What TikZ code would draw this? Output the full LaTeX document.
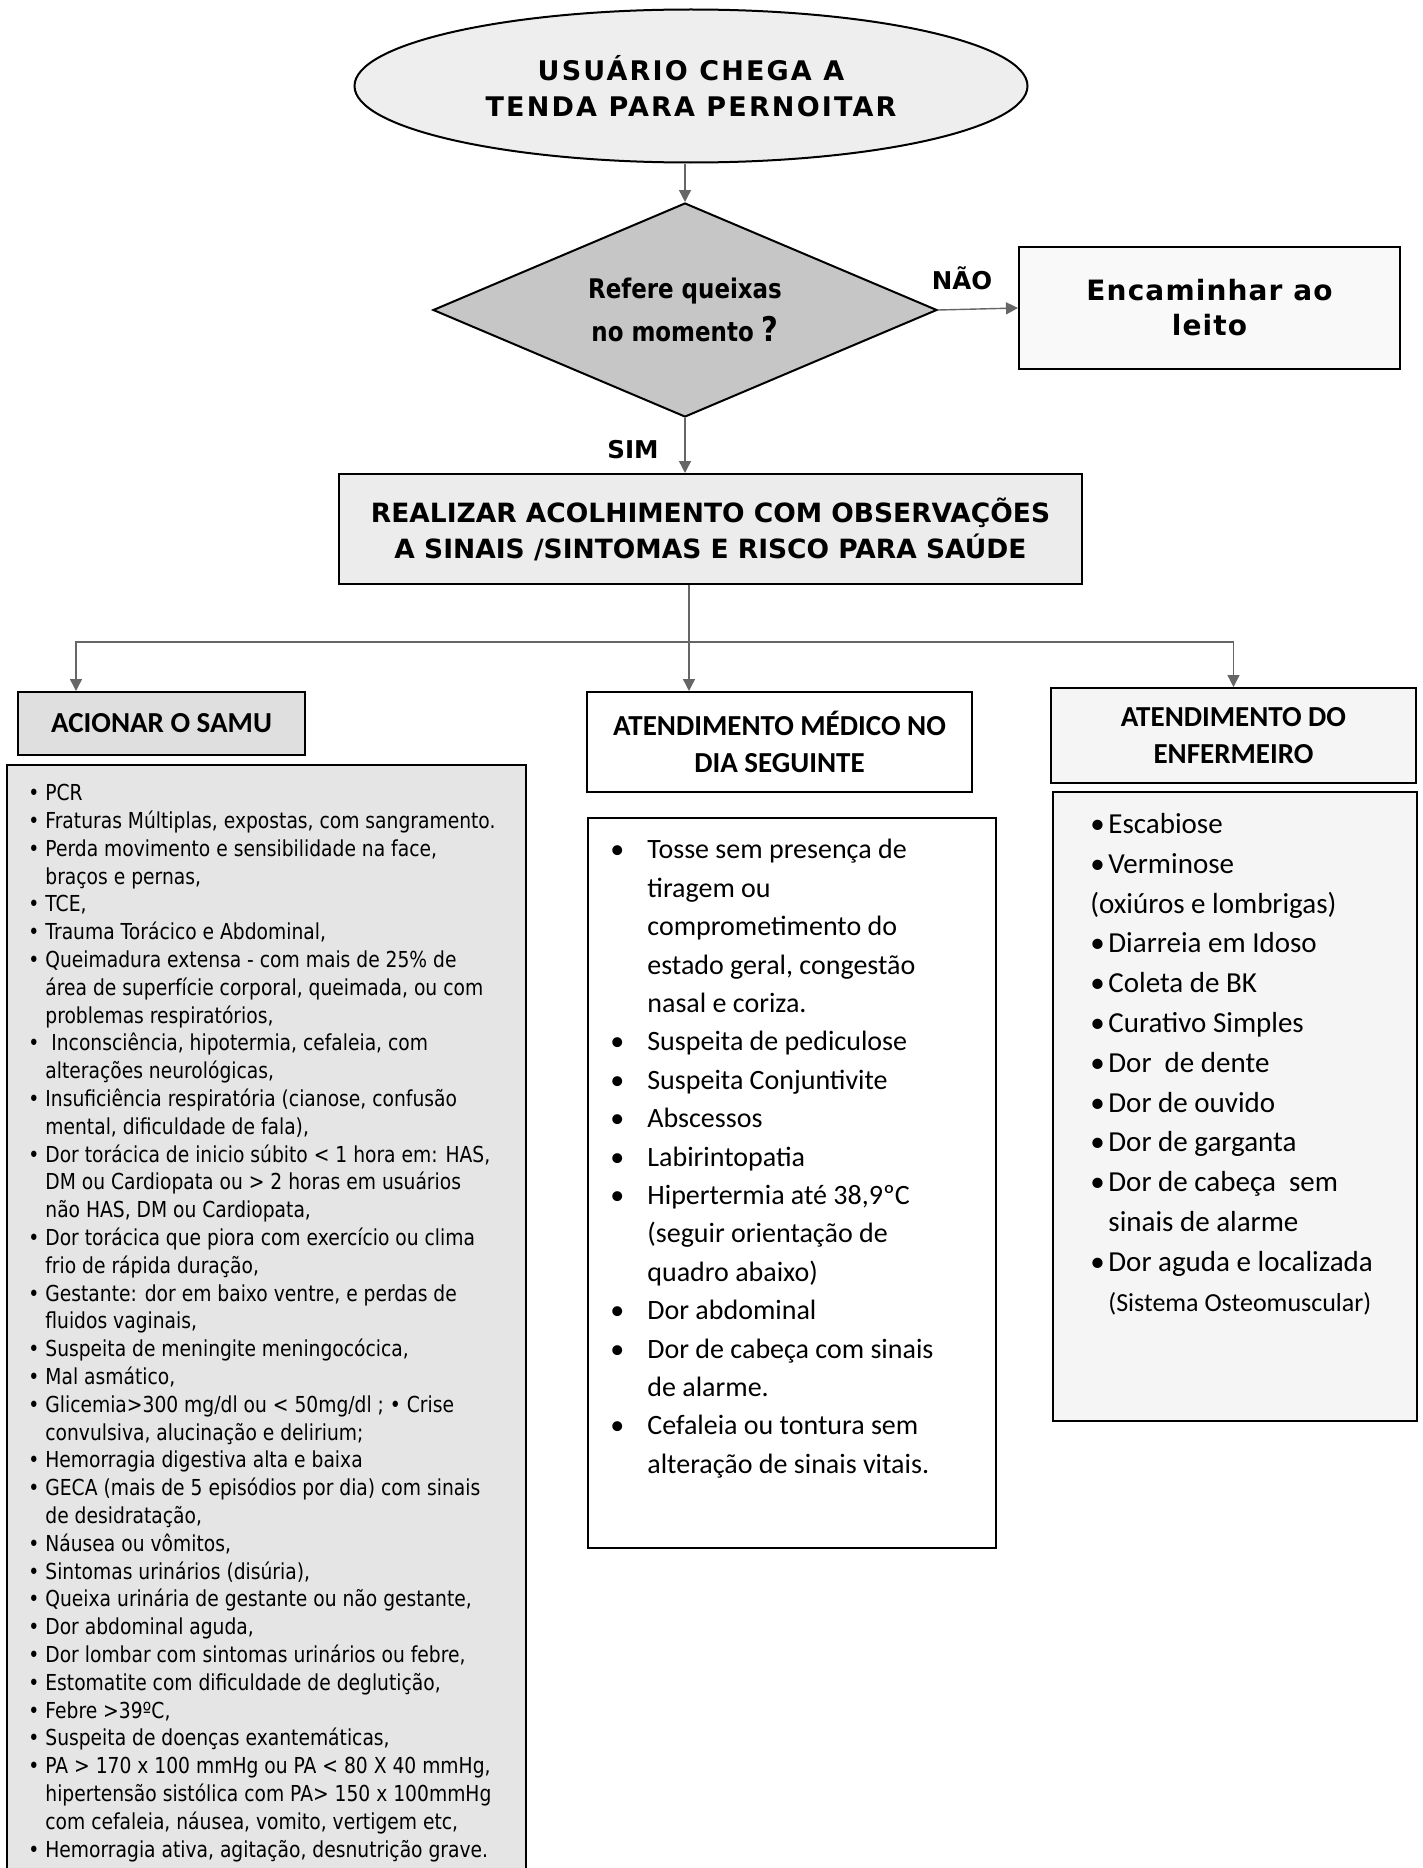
\documentclass[tikz,border=0pt]{standalone}
\usepackage{fontspec}
\setmainfont{DejaVu Sans}
\newfontfamily\verd{DejaVu Sans}
\newfontfamily\verdsp[LetterSpace=8]{DejaVu Sans}
\newfontfamily\verdesp[LetterSpace=4]{DejaVu Sans}
\newfontfamily\tah[FakeStretch=0.85]{DejaVu Sans}
\newfontfamily\calib{Carlito}
\usetikzlibrary{shapes.geometric,arrows.meta,positioning}

% marcadores das listas
\newcommand{\sbul}{\makebox[8.5pt][l]{\textbullet}}
\newcommand{\scont}{\hspace*{8.5pt}}
\newcommand{\mbul}{\makebox[18.5pt][l]{\textbullet}}
\newcommand{\mcont}{\hspace*{18.5pt}}
\newcommand{\ebul}{\makebox[9pt][l]{\textbullet}}
\newcommand{\econt}{\hspace*{9pt}}

\tikzset{
  caixa/.style={draw=black, line width=1pt, inner sep=0pt, align=center},
  titulo/.style={font=\calib\bfseries\fontsize{14.5}{18.5}\selectfont},
  lista/.style={anchor=north west, inner sep=0pt, align=left},
  rot/.style={font=\verd\bfseries\fontsize{12.25}{12.25}\selectfont},
  seta/.style={draw=black!60, line width=0.7pt, -{Triangle[width=6pt,length=6pt]}},
  linha/.style={draw=black!60, line width=0.7pt}
}

\begin{document}
\begin{tikzpicture}[x=0.5pt, y=-0.5pt]
    \useasboundingbox (0,0) rectangle (1423,1868);

    % Chegada
    \node[ellipse, draw=black, line width=1pt, fill=gray!13, minimum width=336.5pt, minimum height=76.5pt, inner sep=0pt, align=center,
          font=\verdsp\bfseries\fontsize{13.5}{18}\selectfont] (inicio) at (691,86) {USUÁRIO CHEGA A\\TENDA PARA PERNOITAR};

    % Decisao
    \node[diamond, shape aspect=2.35, draw=black, line width=1pt, fill=gray!45, minimum width=252pt, minimum height=107pt, inner sep=0pt, align=center,
          font=\tah\bfseries\fontsize{13.5}{21.5}\selectfont] (queixa) at (685,310) {Refere queixas\\no momento {\fontsize{17}{17}\selectfont ?}};
    \node[caixa, fill=gray!5, minimum width=190.5pt, minimum height=61pt, font=\verdesp\bfseries\fontsize{14}{17.5}\selectfont] (leito) at (1209.5,308) {Encaminhar ao\\leito};
    \node[rot] (nao) at (962,278) {NÃO};
    \node[rot] (sim) at (633,450) {SIM};

    % Acolhimento
    \node[caixa, fill=gray!15, minimum width=371.5pt, minimum height=55pt, font=\verd\bfseries\fontsize{13.25}{18}\selectfont] (realizar) at (710.5,529)
        {REALIZAR ACOLHIMENTO COM OBSERVAÇÕES\\A SINAIS /SINTOMAS E RISCO PARA SAÚDE};

    % Encaminhamentos
    \node[caixa, titulo, fill=gray!25, minimum width=143.5pt, minimum height=31.5pt] (samuhead) at (161.5,723.5) {ACIONAR O SAMU};
    \node[caixa, titulo, fill=white, minimum width=192.5pt, minimum height=50pt] (medhead) at (779.5,742) {ATENDIMENTO MÉDICO NO\\DIA SEGUINTE};
    \node[caixa, titulo, fill=gray!8, minimum width=182.5pt, minimum height=47.5pt] (enfhead) at (1233.5,735.5) {ATENDIMENTO DO\\ENFERMEIRO};

    % Quadros das listas
    \node[caixa, fill=gray!20, minimum width=259.5pt, minimum height=557.5pt] (samu) at (266.5,1322.5) {};
    \node[caixa, fill=white, minimum width=204pt, minimum height=365pt] (med) at (792,1183) {};
    \node[caixa, fill=gray!8, minimum width=182pt, minimum height=314.5pt] (enf) at (1235,1106.5) {};

    % Lista SAMU
    \node[lista, font=\tah\fontsize{11}{13.9}\selectfont] (samutxt) at (28,784) {%
        \sbul PCR\\
        \sbul Fraturas Múltiplas, expostas, com sangramento.\\
        \sbul Perda movimento e sensibilidade na face,\\
        \scont braços e pernas,\\
        \sbul TCE,\\
        \sbul Trauma Torácico e Abdominal,\\
        \sbul Queimadura extensa - com mais de 25\% de\\
        \scont área de superfície corporal, queimada, ou com\\
        \scont problemas respiratórios,\\
        \sbul \ Inconsciência, hipotermia, cefaleia, com\\
        \scont alterações neurológicas,\\
        \sbul Insuficiência respiratória (cianose, confusão\\
        \scont mental, dificuldade de fala),\\
        \sbul Dor torácica de inicio súbito < 1 hora em: HAS,\\
        \scont DM ou Cardiopata ou > 2 horas em usuários\\
        \scont não HAS, DM ou Cardiopata,\\
        \sbul Dor torácica que piora com exercício ou clima\\
        \scont frio de rápida duração,\\
        \sbul Gestante: dor em baixo ventre, e perdas de\\
        \scont fluidos vaginais,\\
        \sbul Suspeita de meningite meningocócica,\\
        \sbul Mal asmático,\\
        \sbul Glicemia>300 mg/dl ou < 50mg/dl ; \textbullet{} Crise\\
        \scont convulsiva, alucinação e delirium;\\
        \sbul Hemorragia digestiva alta e baixa\\
        \sbul GECA (mais de 5 episódios por dia) com sinais\\
        \scont de desidratação,\\
        \sbul Náusea ou vômitos,\\
        \sbul Sintomas urinários (disúria),\\
        \sbul Queixa urinária de gestante ou não gestante,\\
        \sbul Dor abdominal aguda,\\
        \sbul Dor lombar com sintomas urinários ou febre,\\
        \sbul Estomatite com dificuldade de deglutição,\\
        \sbul Febre >39ºC,\\
        \sbul Suspeita de doenças exantemáticas,\\
        \sbul PA > 170 x 100 mmHg ou PA < 80 X 40 mmHg,\\
        \scont hipertensão sistólica com PA> 150 x 100mmHg\\
        \scont com cefaleia, náusea, vomito, vertigem etc,\\
        \sbul Hemorragia ativa, agitação, desnutrição grave.};

    % Lista medico
    \node[lista, font=\calib\fontsize{14}{19.2}\selectfont] (medtxt) at (610,839) {%
        \mbul Tosse sem presença de\\
        \mcont tiragem ou\\
        \mcont comprometimento do\\
        \mcont estado geral, congestão\\
        \mcont nasal e coriza.\\
        \mbul Suspeita de pediculose\\
        \mbul Suspeita Conjuntivite\\
        \mbul Abscessos\\
        \mbul Labirintopatia\\
        \mbul Hipertermia até 38,9ºC\\
        \mcont (seguir orientação de\\
        \mcont quadro abaixo)\\
        \mbul Dor abdominal\\
        \mbul Dor de cabeça com sinais\\
        \mcont de alarme.\\
        \mbul Cefaleia ou tontura sem\\
        \mcont alteração de sinais vitais.};

    % Lista enfermeiro
    \node[lista, font=\calib\fontsize{14.5}{19.9}\selectfont] (enftxt) at (1090,813) {%
        \ebul Escabiose\\
        \ebul Verminose\\
        (oxiúros e lombrigas)\\
        \ebul Diarreia em Idoso\\
        \ebul Coleta de BK\\
        \ebul Curativo Simples\\
        \ebul Dor\ \ de dente\\
        \ebul Dor de ouvido\\
        \ebul Dor de garganta\\
        \ebul Dor de cabeça\ \ sem\\
        \econt sinais de alarme\\
        \ebul Dor aguda e localizada\\
        \econt {\fontsize{13}{19.9}\selectfont (Sistema Osteomuscular)}};

    % Ligacoes
    \coordinate (split) at (689,642);
    \coordinate (jl) at (76,642);
    \draw[seta] (queixa.north |- inicio.south) -- (queixa.north);
    \draw[seta] (queixa.east) -- (leito.west);
    \draw[seta] (queixa.south) -- (realizar.north -| queixa.south);
    \draw[linha] (realizar.south -| split) -- (split);
    \draw[seta] (split) -- (medhead.north -| split);
    \draw[seta] (split) -| (samuhead.north -| jl);
    \draw[seta] (split) -| (enfhead.north);
\end{tikzpicture}
\end{document}
